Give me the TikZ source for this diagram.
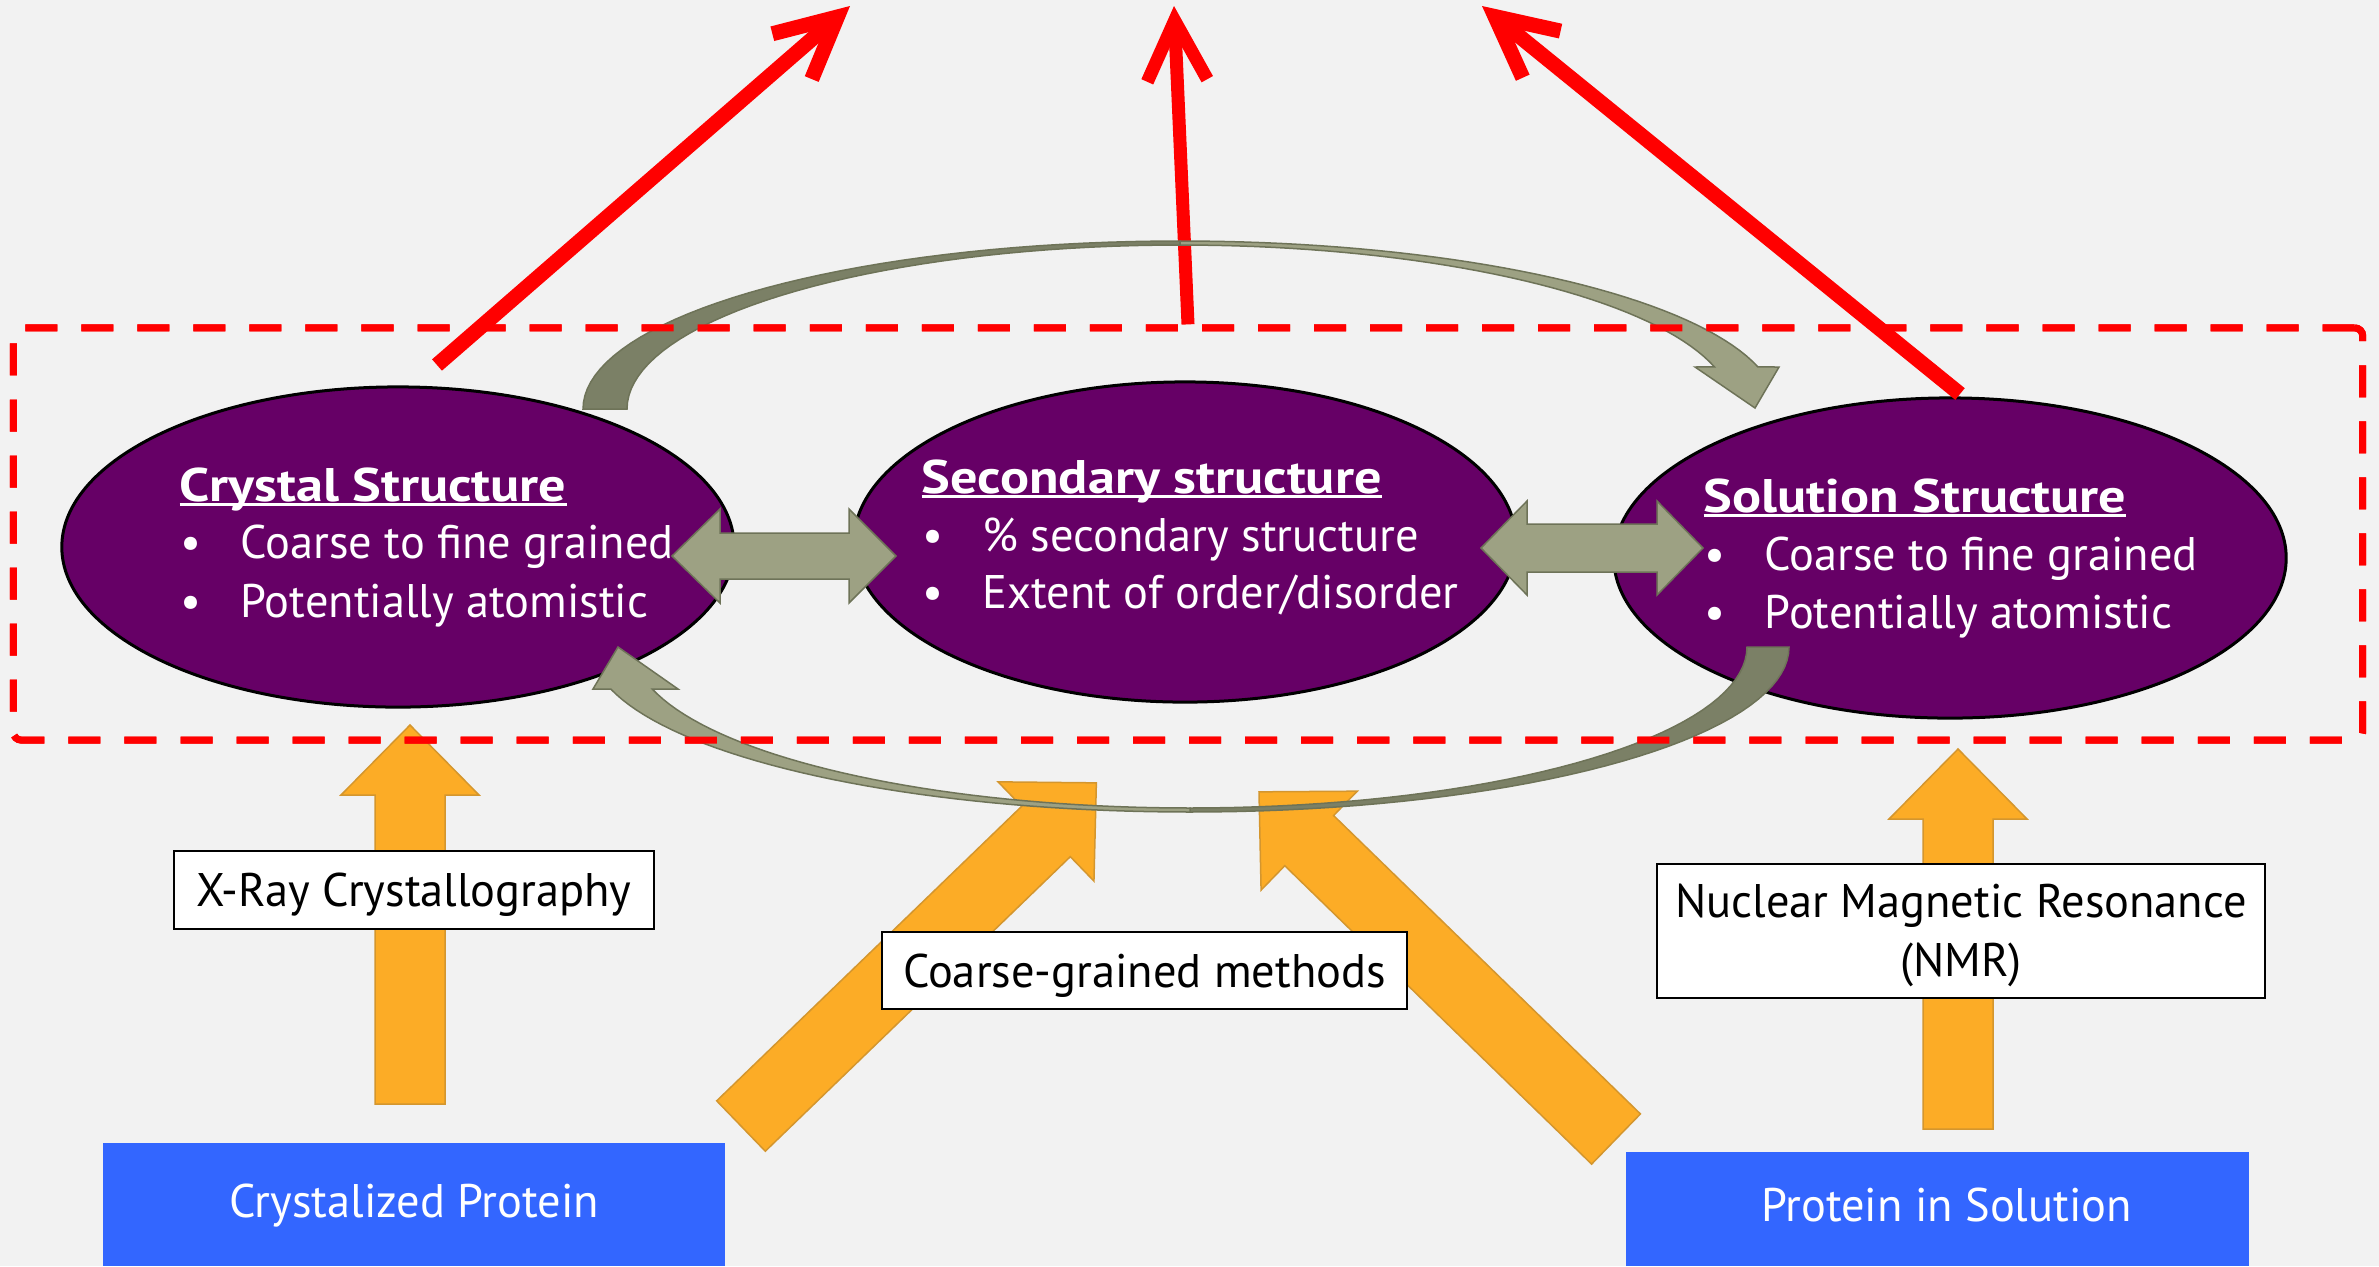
\documentclass[tikz,border=0pt]{standalone}
\usepackage{fontspec}
\setmainfont{PT Sans}[FakeStretch=0.985, BoldFeatures={FakeStretch=1.15}]
\usetikzlibrary{arrows.meta,shapes.geometric}

\newlength\upx
\setlength\upx{0.01cm}

\definecolor{bg}{HTML}{F2F2F2}
\definecolor{plum}{HTML}{660066}
\definecolor{sage}{HTML}{9DA183}
\definecolor{sagedark}{HTML}{7B8066}
\definecolor{sageline}{HTML}{6E7358}
\definecolor{amber}{HTML}{FCAC26}
\definecolor{amberline}{HTML}{D4962E}
\definecolor{royal}{HTML}{3366FF}

\newcommand\bodyfont{\fontsize{13.4pt}{16pt}\selectfont}
% underlined heading with the rule crossing the descenders
\newcommand\headline[1]{\setbox0\hbox{#1}\rlap{\rule[-5\upx]{\wd0}{3\upx}}\box0}
% bullet followed by a hanging indent
\newcommand\bulletitem[1]{\makebox[61\upx][l]{\hspace{1\upx}\textbullet}#1}

% block arrow: tail centre (#1,#2), direction #3 (degrees), length #4
\newcommand\amberblock[4]{%
  \draw[amberarrow, shift={(#1,#2)}, rotate=#3]
    (0,-35) -- ({#4-70},-35) -- ({#4-70},-69) -- (#4,0) -- ({#4-70},69)
    -- ({#4-70},35) -- (0,35) -- cycle;}

\begin{document}
\begin{tikzpicture}[x=0.01cm, y=-0.01cm,
  blob/.style={ellipse, fill=plum, draw=black, line width=0.03cm, inner sep=0},
  headtext/.style={anchor=base west, text=white, font=\bodyfont\bfseries, inner sep=0},
  itemtext/.style={anchor=base west, text=white, font=\bodyfont, inner sep=0},
  labelbox/.style={draw=black, fill=white, line width=0.02cm, inner sep=0,
    font=\bodyfont, text height=33\upx, text depth=0pt},
  srcbox/.style={fill=royal, text=white, inner sep=0, font=\bodyfont, text height=33\upx},
  amberarrow/.style={fill=amber, draw=amberline, line width=0.015cm, line join=miter},
  sagearrow/.style={fill=sage, draw=sageline, line width=0.015cm, line join=miter},
  sageback/.style={fill=sagedark, draw=sageline, line width=0.015cm},
  pointer/.style={draw=red, line width=0.15cm,
    -{Straight Barb[length=0.6cm, width=0.6cm]}},
  zonebox/.style={draw=red, line width=0.07cm, dash pattern=on 0.32cm off 0.24cm,
    rounded corners=0.08cm, inner sep=0},
]
% canvas
\fill[bg] (0,0) rectangle (2379,1266);
\useasboundingbox (0,0) rectangle (2379,1266);

% experimental routes (drawn first, boxes sit on top)
\amberblock{410}{1104}{90}{379}
\amberblock{1958}{1129}{90}{380}
\amberblock{741}{1126}{44.0}{494}
\amberblock{1616}{1139}{135.8}{498}

% structure levels
\node[blob, minimum width=6.72cm, minimum height=3.2cm] (crystal) at (398,547) {};
\node[blob, minimum width=6.62cm, minimum height=3.2cm] (secondary) at (1185,542) {};
\node[blob, minimum width=6.72cm, minimum height=3.2cm] (solution) at (1950,558) {};

% outgoing red pointers
\node[zonebox, minimum width=23.48cm, minimum height=4.12cm] (zone) at (1188,534) {};
\coordinate (pl0) at (437,365);
\coordinate (pl1) at (850,6);
\coordinate (pm1) at (1174,6);
\coordinate (pr0) at (1960,394);
\coordinate (pr1) at (1482,6);
\draw[pointer] (pl0) -- (pl1);
\draw[pointer, line width=0.13cm] (zone.north) -- (pm1);
\draw[pointer] (pr0) -- (pr1);

% curved arrow over the top: crystal -> solution
\filldraw[sageback]
  plot[domain=180:270, samples=40] ({1180+597*cos(\x)},{409+168*sin(\x)})
  -- plot[domain=270:180, samples=40] ({1180+553*cos(\x)},{409+164*sin(\x)}) -- cycle;
\filldraw[sagearrow]
  plot[domain=270:345.5, samples=40] ({1180+597*cos(\x)},{409+168*sin(\x)})
  -- (1779,367) -- (1755,408) -- (1695,367)
  -- plot[domain=345.1:270, samples=40] ({1180+553*cos(\x)},{409+164*sin(\x)}) -- cycle;

% curved arrow underneath: solution -> crystal
\filldraw[sageback]
  plot[domain=0:90, samples=40] ({1190+599*cos(\x)},{647+165*sin(\x)})
  -- plot[domain=90:0, samples=40] ({1190+557*cos(\x)},{647+161*sin(\x)}) -- cycle;
\filldraw[sagearrow]
  plot[domain=90:165.25, samples=40] ({1190+599*cos(\x)},{647+165*sin(\x)})
  -- (593,689) -- (618,647) -- (678,689)
  -- plot[domain=164.88:90, samples=40] ({1190+557*cos(\x)},{647+161*sin(\x)}) -- cycle;

% dashed frame on top
\node[zonebox, minimum width=23.48cm, minimum height=4.12cm] at (zone) {};

% two-way links
\draw[sagearrow] (672,556) -- (720,509) -- (720,533) -- (849,533) -- (849,509)
  -- (896,556) -- (849,603) -- (849,579) -- (720,579) -- (720,603) -- cycle;
\draw[sagearrow] (1481,548) -- (1527,501) -- (1527,524) -- (1657,524) -- (1657,501)
  -- (1703,548) -- (1657,595) -- (1657,572) -- (1527,572) -- (1527,595) -- cycle;

% texts of the structure levels
\node[headtext] (crystalT) at (179,501) {\headline{Crystal Structure}};
\node[itemtext] (crystalA) at (179,558) {\bulletitem{Coarse to fine grained}};
\node[itemtext] (crystalB) at (179,617) {\bulletitem{Potentially atomistic}};

\node[headtext] (secondaryT) at (921,493) {\headline{Secondary structure}};
\node[itemtext] (secondaryA) at (921,551) {\bulletitem{\% secondary structure}};
\node[itemtext] (secondaryB) at (921,608) {\bulletitem{Extent of order/disorder}};

\node[headtext] (solutionT) at (1703,512) {\headline{Solution Structure}};
\node[itemtext] (solutionA) at (1703,570) {\bulletitem{Coarse to fine grained}};
\node[itemtext] (solutionB) at (1703,628) {\bulletitem{Potentially atomistic}};

% method labels
\node[labelbox, minimum width=4.80cm, minimum height=0.78cm] (xray) at (414,890) {X-Ray Crystallography};
\node[labelbox, minimum width=5.25cm, minimum height=0.77cm] (cg) at (1144.5,970.5) {Coarse-grained methods};
\node[labelbox, minimum width=6.08cm, minimum height=1.34cm] (nmr) at (1961,931) {};
\node[anchor=base, font=\bodyfont, inner sep=0] (nmrA) at (1961,917) {Nuclear Magnetic Resonance};
\node[anchor=base, font=\bodyfont, inner sep=0] (nmrB) at (1961,976) {(NMR)};

% starting samples
\node[srcbox, minimum width=6.22cm, minimum height=1.23cm, text depth=8\upx] (xtal) at (414,1204.5) {Crystalized Protein};
\node[srcbox, minimum width=6.23cm, minimum height=1.14cm, text depth=9\upx] (insol) at (1937.5,1209) {\hspace{18\upx}Protein in Solution};
\end{tikzpicture}
\end{document}
